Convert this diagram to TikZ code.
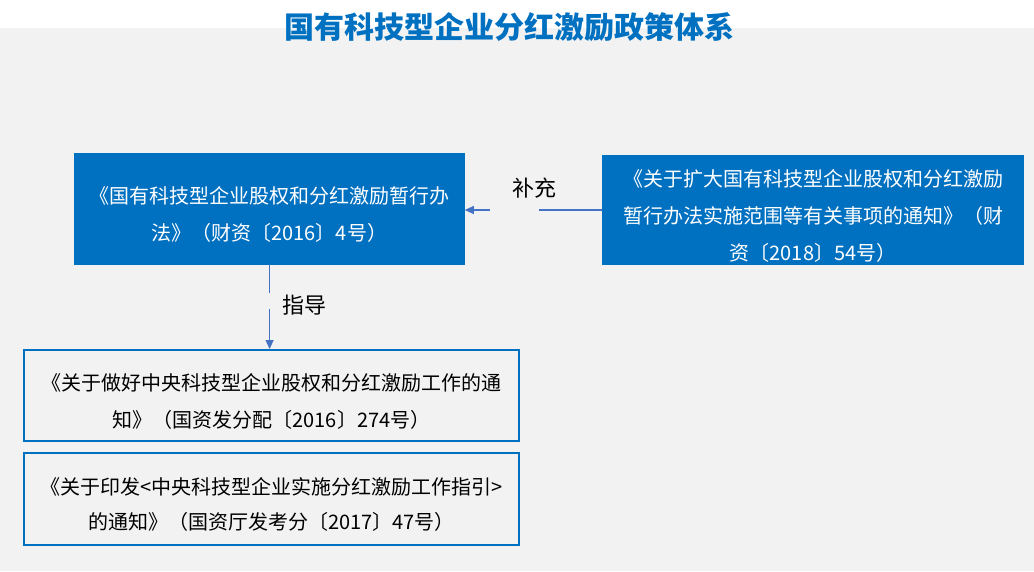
\documentclass[tikz,border=0pt]{standalone}
\usepackage{fontspec}
\setmainfont{Noto Sans CJK SC}
\usetikzlibrary{arrows.meta}
\definecolor{boxblue}{HTML}{0070C0}
\definecolor{connblue}{HTML}{4472C4}
\definecolor{bggray}{HTML}{F2F2F2}
\begin{document}
\begin{tikzpicture}[x=1pt,y=-1pt,
  filledbox/.style={rectangle, fill=boxblue, inner sep=0pt},
  outlinebox/.style={rectangle, draw=boxblue, line width=2pt, inner sep=0pt},
  boxtext/.style={inner sep=0pt, align=center, font=\fontsize{20}{37}\selectfont},
  conn/.style={draw=connblue, line width=1.1pt},
  connarrow/.style={conn, -{Triangle[length=9pt,width=8pt]}},
  lbl/.style={text=black, inner sep=0pt, font=\fontsize{22}{22}\selectfont},
  titletext/.style={text=boxblue, inner sep=0pt, font=\fontsize{30}{30}\selectfont\bfseries}]
\useasboundingbox (0,0) rectangle (1034,571);
\fill[white] (0,0) rectangle (1034,571);
\fill[bggray] (0,28) rectangle (1034,571);

\node[titletext] (title) at (509,27) {国有科技型企业分红激励政策体系};

\node[filledbox, minimum width=390.6pt, minimum height=112pt] (A) at (269.3,209) {};
\node[boxtext, text=white] (At) at ([yshift=-5pt]A.center)
  {《国有科技型企业股权和分红激励暂行办\\法》（财资〔2016〕4号）};
\node[filledbox, minimum width=422pt, minimum height=110pt] (B) at (813,210) {};
\node[boxtext, text=white] (Bt) at ([yshift=-5.5pt]B.center)
  {《关于扩大国有科技型企业股权和分红激励\\暂行办法实施范围等有关事项的通知》（财\\资〔2018〕54号）};
\node[outlinebox, minimum width=495pt, minimum height=91pt] (C) at (271.5,395.5) {};
\node[boxtext, text=black] (Ct) at ([yshift=-6pt]C.center)
  {《关于做好中央科技型企业股权和分红激励工作的通\\知》（国资发分配〔2016〕274号）};
\node[outlinebox, minimum width=495pt, minimum height=92pt] (D) at (271.5,499) {};
\node[boxtext, text=black, font=\fontsize{20}{35}\selectfont] (Dt) at ([yshift=-5pt]D.center)
  {《关于印发<中央科技型企业实施分红激励工作指引>\\的通知》（国资厅发考分〔2017〕47号）};

\node[lbl] (l1) at (534,188) {补充};
\node[lbl] (l2) at (304.5,305) {指导};

\coordinate (h1) at (538.6,210);
\coordinate (h2) at (490,210);
\draw[conn] (B.west) -- (h1);
\draw[connarrow] (h2) -- (B.west -| A.east);

\coordinate (v1) at (269.6,293);
\coordinate (v2) at (269.6,309);
\draw[conn] (A.south -| v1) -- (v1);
\draw[connarrow] (v2) -- (C.north -| v2);
\end{tikzpicture}
\end{document}
